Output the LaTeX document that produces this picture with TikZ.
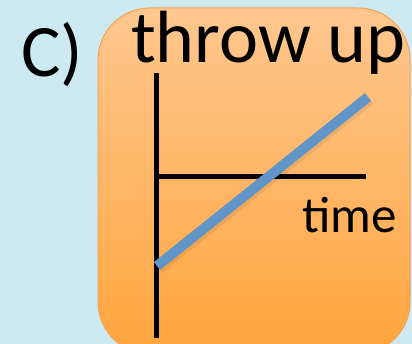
\documentclass[tikz,border=0pt]{standalone}
\usepackage{fontspec}
\setmainfont{Carlito}
\usetikzlibrary{positioning}
\definecolor{skyback}{HTML}{CDE9F1}
\definecolor{paneltop}{HTML}{FFC78F}
\definecolor{panelbot}{HTML}{FFA53E}
\definecolor{panelrim}{HTML}{F5A352}
\definecolor{lineblue}{HTML}{6195C8}

\begin{document}
\begin{tikzpicture}[
  x=1pt, y=-1pt,
  panel/.style={rounded corners=52pt, top color=paneltop, bottom color=panelbot,
                draw=panelrim, line width=1pt},
  axis/.style={line width=4.5pt, color=black},
  motion/.style={line width=10pt, color=lineblue},
  bigtext/.style={font=\fontsize{74}{74}\selectfont, inner sep=0pt, anchor=base west},
  smalltext/.style={font=\fontsize{51}{51}\selectfont, inner sep=0pt, anchor=base west},
]

\fill[skyback] (0,0) rectangle (412,344);
\useasboundingbox (0,0) rectangle (412,344);

\draw[panel] (98,8) rectangle (410,354);

\node[bigtext] (tag) at (21,77) {C)};
\node[bigtext] (title) at (131,63) {throw up};
\node[smalltext] (timelabel) at (302,233) {time};

% axes
\coordinate (ytop) at (156.5,73);
\coordinate (ybot) at (156.5,338);
\coordinate (xstart) at (156.5,176.5);
\coordinate (xend) at (366,176.5);
\draw[axis] (ytop) -- (ybot);
\draw[axis] (xstart) -- (xend);

% velocity line
\coordinate (vstart) at (157,266);
\coordinate (vend) at (368,97);
\draw[black, opacity=0.07, line width=10pt] ([shift={(2,3)}]vstart) -- ([shift={(2,3)}]vend);
\draw[motion] (vstart) -- (vend);

\end{tikzpicture}
\end{document}
